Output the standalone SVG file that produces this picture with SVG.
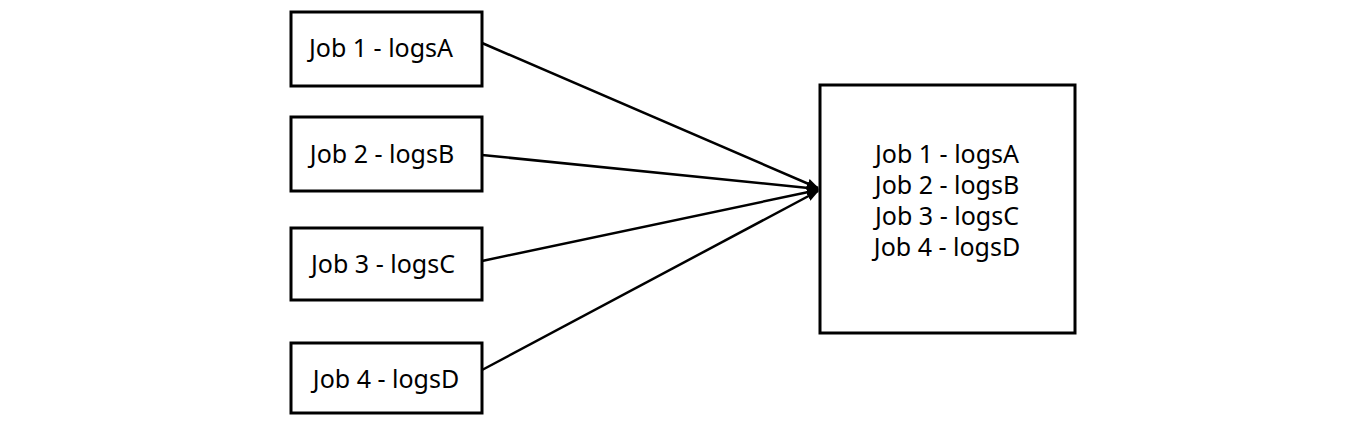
<svg xmlns="http://www.w3.org/2000/svg" width="1367" height="425" viewBox="0 0 1367 425">
<style>
.box{fill:#fff;stroke:#000;stroke-width:3}
.lbl{font-family:"Noto Sans","Open Sans","Liberation Sans",sans-serif;font-size:25px;fill:#000;text-anchor:middle}
.edge{stroke:#000;stroke-width:2.5;fill:none}
</style>
<defs>
<marker id="arr" viewBox="0 0 10 10" refX="9" refY="5" markerWidth="5" markerHeight="5" orient="auto" markerUnits="strokeWidth">
<path d="M0,1 L10,5 L0,9 Z" fill="#000"/>
</marker>
</defs>
<rect width="1367" height="425" fill="#fff"/>
<g id="connectors">
<line class="edge" x1="482" y1="43" x2="818" y2="188" marker-end="url(#arr)"/>
<line class="edge" x1="482" y1="155" x2="818" y2="189" marker-end="url(#arr)"/>
<line class="edge" x1="482" y1="261" x2="818" y2="190" marker-end="url(#arr)"/>
<line class="edge" x1="482" y1="370" x2="818" y2="191" marker-end="url(#arr)"/>
</g>
<g id="job1">
<rect class="box" x="291" y="12" width="191" height="74"/>
<text class="lbl" x="381" y="57">Job 1 - logsA</text>
</g>
<g id="job2">
<rect class="box" x="291" y="117" width="191" height="74"/>
<text class="lbl" x="382" y="163">Job 2 - logsB</text>
</g>
<g id="job3">
<rect class="box" x="291" y="228" width="191" height="72"/>
<text class="lbl" x="383" y="273">Job 3 - logsC</text>
</g>
<g id="job4">
<rect class="box" x="291" y="343" width="191" height="70"/>
<text class="lbl" x="386" y="388">Job 4 - logsD</text>
</g>
<g id="combined">
<rect class="box" x="820" y="85" width="255" height="248"/>
<text class="lbl" x="947" y="163">Job 1 - logsA</text>
<text class="lbl" x="947" y="194">Job 2 - logsB</text>
<text class="lbl" x="947" y="225">Job 3 - logsC</text>
<text class="lbl" x="947" y="256">Job 4 - logsD</text>
</g>
</svg>
